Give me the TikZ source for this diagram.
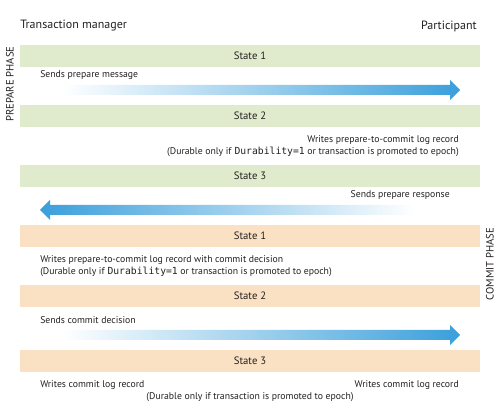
\documentclass[tikz,border=0pt]{standalone}
\usepackage{fontspec}
\setmainfont{PT Sans}
\setmonofont{DejaVu Sans Mono}
\usetikzlibrary{positioning}
\definecolor{prepgreen}{HTML}{E0EACC}
\definecolor{commorange}{HTML}{FBE1C3}
\definecolor{msgblue}{HTML}{3A9FDB}
\definecolor{inktext}{HTML}{231F20}
\begin{document}
\begin{tikzpicture}[x=0.75pt,y=-0.75pt,
		statebar/.style={minimum width=345pt,minimum height=16.5pt,inner sep=0pt,font=\fontsize{8pt}{9pt}\selectfont,text=inktext},
		prepbar/.style={statebar,fill=prepgreen},
		commbar/.style={statebar,fill=commorange},
		head/.style={inner sep=0pt,font=\fontsize{9pt}{10pt}\selectfont,text=inktext},
		note/.style={inner sep=0pt,font=\fontsize{7.3pt}{9pt}\selectfont,text=inktext},
		phase/.style={inner sep=0pt,rotate=90,font=\fontsize{8pt}{9pt}\selectfont,text=inktext}]
	\useasboundingbox (0,0) rectangle (500,420);
	%
	\node[head,anchor=west] (tm) at (20,26) {Transaction manager};
	\node[head,anchor=east] (pa) at (477,26) {Participant};
	\node[phase] (pphase) at (10,84) {PREPARE PHASE};
	\node[phase] (cphase) at (490,264) {COMMIT PHASE};
	%
	\node[prepbar] (p1) at (250,56) {State 1};
	\node[prepbar] (p2) at (250,116) {State 2};
	\node[prepbar] (p3) at (250,176) {State 3};
	\node[commbar] (c1) at (250,236) {State 1};
	\node[commbar] (c2) at (250,296) {State 2};
	\node[commbar] (c3) at (250,361) {State 3};
	%
	\node[note,anchor=west] (m1) at (40,75) {Sends prepare message};
	\node[note,anchor=east] (w1) at (459,140) {Writes prepare-to-commit log record};
	\node[note,anchor=east] (w1d) at (459,152) {(Durable only if \texttt{Durability=1} or transaction is promoted to epoch)};
	\node[note,anchor=east] (m2) at (450,195) {Sends prepare response};
	\node[note,anchor=west] (w2) at (40,260) {Writes prepare-to-commit log record with commit decision};
	\node[note,anchor=west] (w2d) at (40,272) {(Durable only if \texttt{Durability=1} or transaction is promoted to epoch)};
	\node[note,anchor=west] (m3) at (40,320) {Sends commit decision};
	\node[note,anchor=west] (w3) at (40,385) {Writes commit log record};
	\node[note,anchor=east] (w4) at (459,385) {Writes commit log record};
	\node[note] (w3d) at (250,397) {(Durable only if transaction is promoted to epoch)};
	%
	\shade[left color=white,right color=msgblue] (62,85) -- (450,85) -- (450,80) -- (460,90) -- (450,100) -- (450,95) -- (62,95) -- cycle;
	\shade[left color=msgblue,right color=white] (415,205) -- (50,205) -- (50,200) -- (40,210) -- (50,220) -- (50,215) -- (415,215) -- cycle;
	\shade[left color=white,right color=msgblue] (62,330) -- (450,330) -- (450,325) -- (460,335) -- (450,345) -- (450,340) -- (62,340) -- cycle;
\end{tikzpicture}
\end{document}
